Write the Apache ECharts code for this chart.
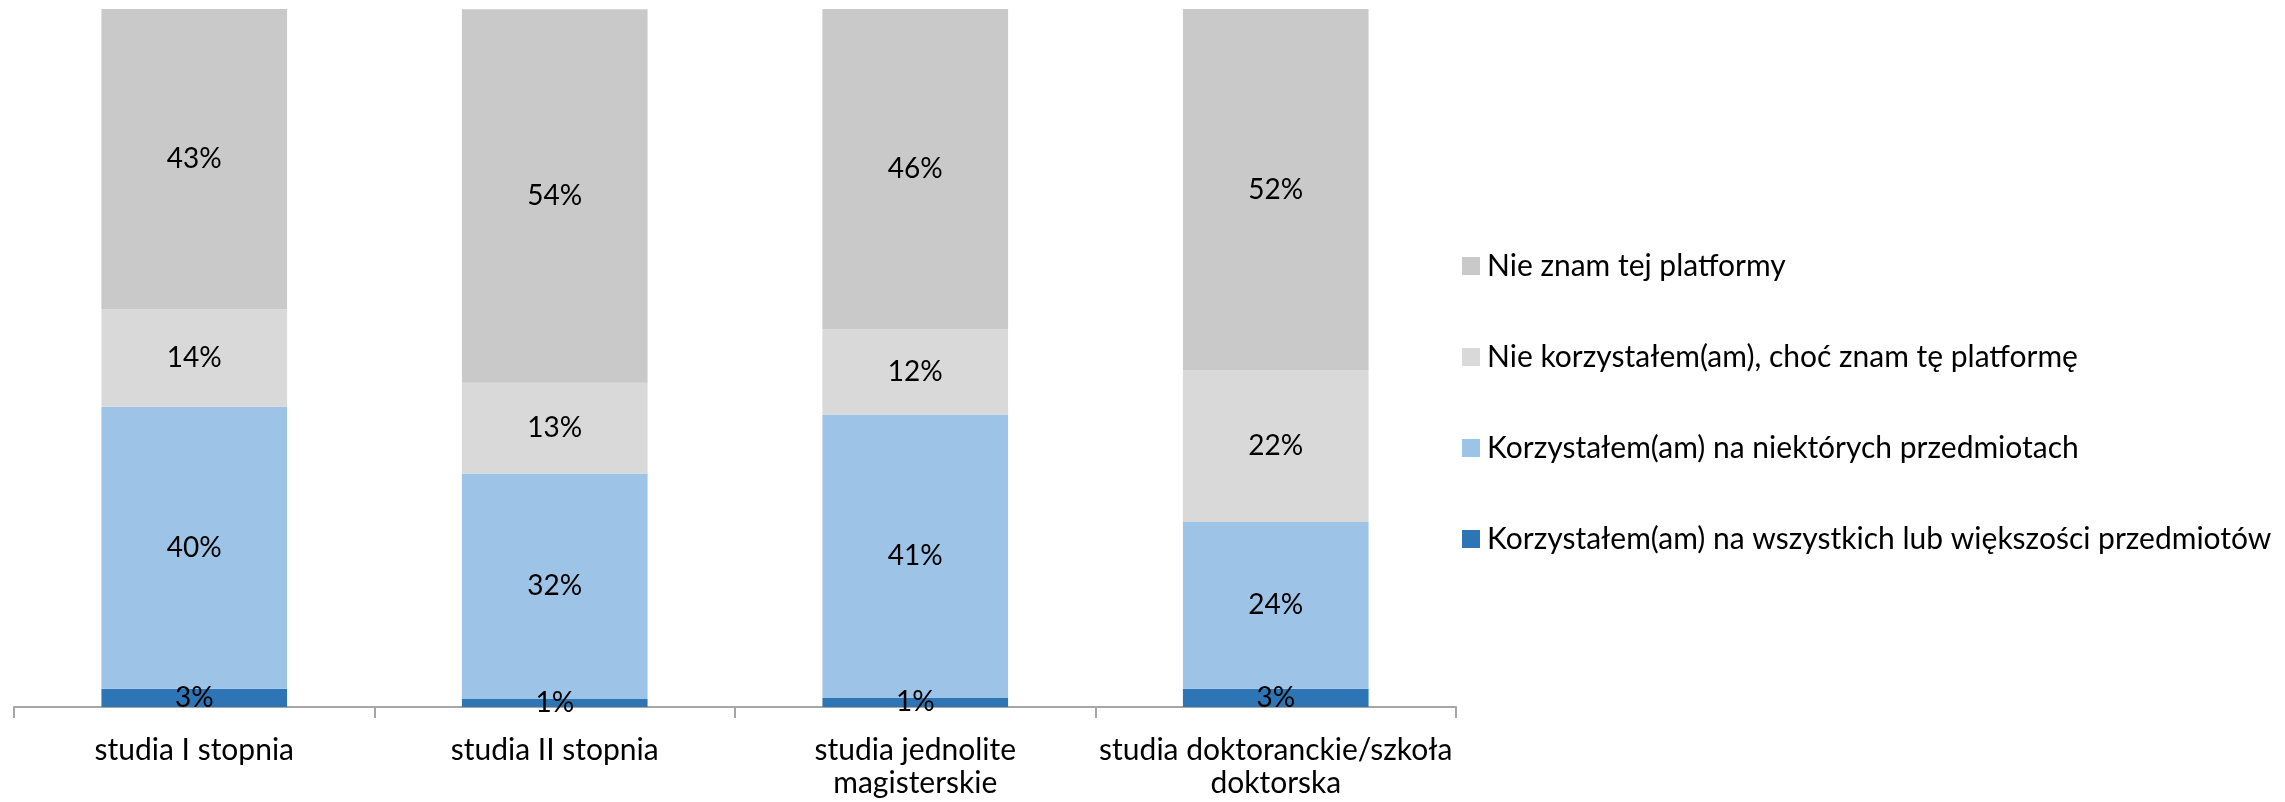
<!DOCTYPE html>
<html>
<head>
<meta charset="utf-8">
<script src="https://cdn.jsdelivr.net/npm/echarts@6/dist/echarts.min.js"></script>
<style>
html,body{margin:0;padding:0;background:#fff;}
#chart{width:2285px;height:802px;}
</style>
</head>
<body>
<div id="chart"></div>
<script>
const categories = ['studia I stopnia', 'studia II stopnia', 'studia jednolite\nmagisterskie', 'studia doktoranckie/szkoła\ndoktorska'];
const seriesNames = [
  'Korzystałem(am) na wszystkich lub większości przedmiotów',
  'Korzystałem(am) na niektórych przedmiotach',
  'Nie korzystałem(am), choć znam tę platformę',
  'Nie znam tej platformy'
];
const allSubjects = [2.6, 1.15, 1.3, 2.6];
const someSubjects = [40.4, 32.3, 40.6, 23.9];
const knowNotUsed = [14.0, 13.0, 12.2, 21.7];
const unknown = [43.0, 53.5, 45.9, 51.8];
const colors = ['#2E75B6', '#9DC3E6', '#D9D9D9', '#C9C9C9'];

const FONT = 'Lato, "Liberation Sans", sans-serif';
const values = [allSubjects, someSubjects, knowNotUsed, unknown];

const chart = echarts.init(document.getElementById('chart'), null, {renderer: 'canvas'});
chart.setOption({
  animation: false,
  backgroundColor: '#ffffff',
  grid: {left: 14, right: 829, top: 9, bottom: 95, containLabel: false},
  legend: {
    orient: 'vertical',
    left: 1457,
    top: 246,
    itemWidth: 18,
    itemHeight: 18,
    itemGap: 61,
    icon: 'rect',
    data: seriesNames.slice().reverse(),
    textStyle: {fontFamily: FONT, fontSize: 30, color: '#000', lineHeight: 30, padding: [0, 0, 0, 2]}
  },
  xAxis: {
    type: 'category',
    data: categories,
    axisLine: {lineStyle: {color: '#A6A6A6', width: 2}},
    axisTick: {show: true, length: 11, lineStyle: {color: '#A6A6A6', width: 2}},
    axisLabel: {fontFamily: FONT, fontSize: 30, color: '#000', lineHeight: 33, margin: 27, interval: 0}
  },
  yAxis: {type: 'value', min: 0, max: 100, show: false, splitLine: {show: false}},
  series: seriesNames.map((name, i) => ({
    name: name,
    type: 'bar',
    stack: 'total',
    barWidth: '51.5%',
    data: values[i],
    itemStyle: {color: colors[i]},
    label: {
      show: true,
      position: 'inside',
      fontFamily: FONT,
      fontSize: 28,
      color: '#000',
      formatter: p => Math.round(p.value) + '%'
    }
  }))
});
</script>
</body>
</html>
